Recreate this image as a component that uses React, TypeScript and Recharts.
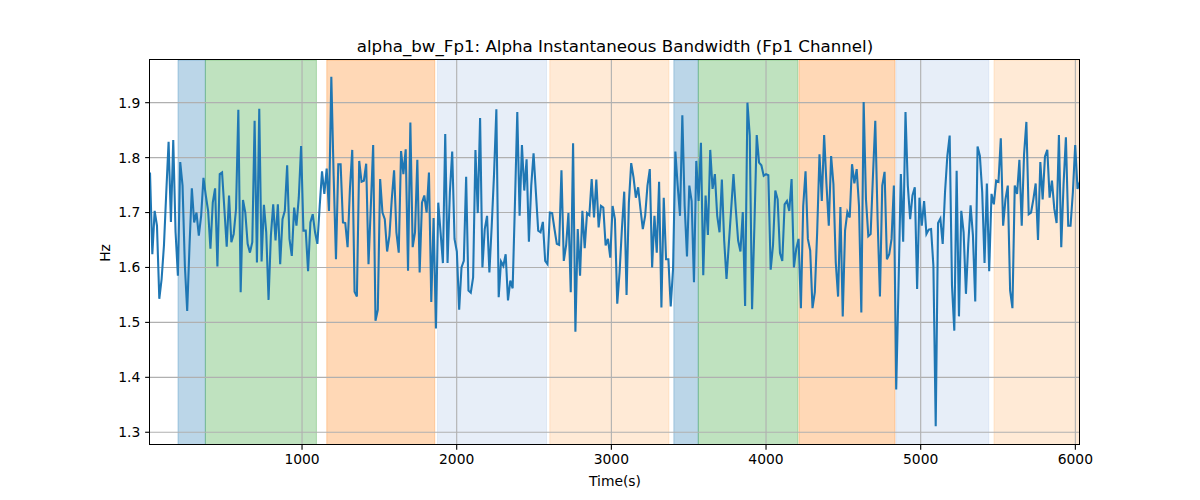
import React from 'react';
import { LineChart, Line, XAxis, YAxis, ReferenceArea, ReferenceLine } from 'recharts';

// Time axis: evenly sampled windows (seconds)
const TIME_START = 17;
const TIME_STEP = 15.03;

// Alpha instantaneous bandwidth, Fp1 channel (Hz)
const bandwidthHz: number[] = [
  1.773, 1.624, 1.703, 1.676, 1.543, 1.579, 1.640, 1.737, 1.829, 1.683,
  1.832, 1.664, 1.585, 1.792, 1.749, 1.603, 1.521, 1.640, 1.744, 1.682,
  1.700, 1.658, 1.694, 1.763, 1.731, 1.703, 1.634, 1.718, 1.744, 1.602,
  1.770, 1.773, 1.706, 1.638, 1.731, 1.646, 1.661, 1.706, 1.887, 1.555,
  1.723, 1.700, 1.643, 1.627, 1.646, 1.867, 1.609, 1.889, 1.611, 1.714,
  1.664, 1.541, 1.658, 1.715, 1.649, 1.715, 1.606, 1.688, 1.703, 1.786,
  1.652, 1.621, 1.709, 1.676, 1.727, 1.821, 1.667, 1.667, 1.593, 1.682,
  1.697, 1.664, 1.643, 1.712, 1.775, 1.734, 1.780, 1.703, 1.947, 1.767,
  1.615, 1.788, 1.788, 1.682, 1.681, 1.637, 1.743, 1.814, 1.556, 1.547,
  1.794, 1.756, 1.758, 1.789, 1.606, 1.712, 1.823, 1.503, 1.523, 1.761,
  1.700, 1.688, 1.629, 1.658, 1.724, 1.777, 1.664, 1.627, 1.812, 1.770,
  1.815, 1.594, 1.864, 1.637, 1.664, 1.796, 1.591, 1.718, 1.731, 1.700,
  1.773, 1.537, 1.690, 1.489, 1.718, 1.664, 1.608, 1.843, 1.608, 1.737,
  1.811, 1.652, 1.629, 1.523, 1.600, 1.612, 1.765, 1.558, 1.554, 1.582,
  1.814, 1.699, 1.872, 1.600, 1.670, 1.694, 1.591, 1.676, 1.770, 1.888,
  1.546, 1.611, 1.603, 1.624, 1.540, 1.576, 1.562, 1.718, 1.883, 1.694,
  1.823, 1.740, 1.797, 1.647, 1.749, 1.808, 1.737, 1.667, 1.664, 1.683,
  1.612, 1.606, 1.700, 1.699, 1.670, 1.643, 1.641, 1.777, 1.612, 1.640,
  1.699, 1.555, 1.826, 1.483, 1.670, 1.585, 1.703, 1.635, 1.699, 1.695,
  1.761, 1.691, 1.760, 1.673, 1.712, 1.709, 1.640, 1.652, 1.618, 1.712,
  1.688, 1.534, 1.591, 1.670, 1.738, 1.550, 1.718, 1.790, 1.764, 1.727,
  1.746, 1.706, 1.670, 1.694, 1.749, 1.779, 1.600, 1.694, 1.627, 1.756,
  1.527, 1.727, 1.615, 1.615, 1.529, 1.597, 1.811, 1.749, 1.694, 1.877,
  1.712, 1.620, 1.749, 1.721, 1.573, 1.794, 1.721, 1.827, 1.586, 1.731,
  1.659, 1.814, 1.743, 1.770, 1.694, 1.664, 1.760, 1.649, 1.579, 1.643,
  1.706, 1.770, 1.706, 1.649, 1.629, 1.701, 1.530, 1.900, 1.840, 1.524,
  1.676, 1.841, 1.791, 1.786, 1.767, 1.770, 1.768, 1.596, 1.640, 1.740,
  1.724, 1.626, 1.612, 1.715, 1.721, 1.703, 1.761, 1.600, 1.634, 1.652,
  1.526, 1.712, 1.775, 1.652, 1.631, 1.526, 1.555, 1.664, 1.806, 1.721,
  1.841, 1.752, 1.676, 1.803, 1.752, 1.609, 1.547, 1.710, 1.511, 1.667,
  1.701, 1.691, 1.788, 1.753, 1.779, 1.712, 1.518, 1.901, 1.724, 1.657,
  1.661, 1.767, 1.867, 1.688, 1.547, 1.749, 1.774, 1.615, 1.624, 1.652,
  1.749, 1.378, 1.567, 1.770, 1.647, 1.883, 1.749, 1.688, 1.731, 1.746,
  1.561, 1.727, 1.676, 1.721, 1.661, 1.669, 1.670, 1.603, 1.311, 1.681,
  1.689, 1.643, 1.737, 1.803, 1.840, 1.567, 1.485, 1.776, 1.511, 1.703,
  1.664, 1.552, 1.643, 1.713, 1.659, 1.538, 1.820, 1.803, 1.737, 1.608,
  1.753, 1.593, 1.734, 1.715, 1.758, 1.756, 1.835, 1.676, 1.724, 1.749,
  1.558, 1.526, 1.749, 1.734, 1.796, 1.676, 1.806, 1.865, 1.697, 1.700,
  1.724, 1.753, 1.650, 1.792, 1.724, 1.802, 1.814, 1.727, 1.758, 1.707,
  1.681, 1.841, 1.637, 1.752, 1.837, 1.676, 1.676, 1.737, 1.823, 1.743,
  1.756,
];

const timeSeconds: number[] = bandwidthHz.map((_, i) => TIME_START + i * TIME_STEP);

const xTicks = [1000, 2000, 3000, 4000, 5000, 6000];
const yTicks = [1.3, 1.4, 1.5, 1.6, 1.7, 1.8, 1.9];
const X_DOMAIN: [number, number] = [17, 6030];
const Y_DOMAIN: [number, number] = [1.2768, 1.9777];

// Shaded segments: [start (s), end (s), kind]
const bandStarts = [198, 375, 1160, 1876, 2602, 3404, 3562, 4213, 4840, 5474];
const bandEnds = [375, 1093, 1858, 2581, 3372, 3562, 4206, 4834, 5440, 6030];
const bandKinds = ['blue', 'green', 'orange', 'lightblue', 'lightorange', 'blue', 'green', 'orange', 'lightblue', 'lightorange'];

const bandStyle: Record<string, { color: string; opacity: number }> = {
  blue: { color: '#1f77b4', opacity: 0.3 },
  green: { color: '#2ca02c', opacity: 0.3 },
  orange: { color: '#ff7f0e', opacity: 0.3 },
  lightblue: { color: '#aec7e8', opacity: 0.3 },
  lightorange: { color: '#ffbb78', opacity: 0.3 },
};

const chartData = bandwidthHz.map((v, i) => ({ t: timeSeconds[i], v }));

const FONT = '"DejaVu Sans", sans-serif';
const PX = 100 / 72; // matplotlib pt -> px at 100 dpi

export default function App() {
  const tickStyle = { fontFamily: FONT, fontSize: 10 * PX, fill: '#000' };
  return (
    <div style={{ position: 'absolute', left: 0, top: 0, width: 1200, height: 500, background: '#fff' }}>
      <LineChart
        width={1200}
        height={500}
        data={chartData}
        margin={{ top: 60, right: 120, bottom: 0, left: 0 }}
      >
        <XAxis
          type="number"
          dataKey="t"
          domain={X_DOMAIN}
          ticks={xTicks}
          allowDataOverflow
          height={55}
          axisLine={false}
          tickLine={{ stroke: '#000', strokeWidth: 0.8 * PX }}
          tickSize={3.5 * PX}
          tickMargin={3.5 * PX - 1}
          tick={tickStyle}
        />
        <YAxis
          type="number"
          domain={Y_DOMAIN}
          ticks={yTicks}
          allowDataOverflow
          width={150}
          axisLine={false}
          tickLine={{ stroke: '#000', strokeWidth: 0.8 * PX }}
          tickSize={3.5 * PX}
          tickMargin={3.5 * PX}
          tick={tickStyle}
          tickFormatter={(v: number) => v.toFixed(1)}
        />
        {bandStarts.map((s, i) => {
          const st = bandStyle[bandKinds[i]];
          return (
            <ReferenceArea
              key={'band' + i}
              x1={s}
              x2={bandEnds[i]}
              ifOverflow="hidden"
              fill={st.color}
              fillOpacity={st.opacity}
              stroke={st.color}
              strokeOpacity={st.opacity}
              strokeWidth={1}
            />
          );
        })}
        {xTicks.map((x) => (
          <ReferenceLine key={'gx' + x} x={x} stroke="#b0b0b0" strokeWidth={0.8 * PX} />
        ))}
        {yTicks.map((y) => (
          <ReferenceLine key={'gy' + y} y={y} stroke="#b0b0b0" strokeWidth={0.8 * PX} />
        ))}
        <Line
          type="linear"
          dataKey="v"
          stroke="#1f77b4"
          strokeWidth={1.5 * PX}
          dot={false}
          activeDot={false}
          isAnimationActive={false}
        />
      </LineChart>
      {/* axes frame */}
      <div
        style={{
          position: 'absolute',
          left: 150 - 0.55,
          top: 60 - 0.55,
          width: 930 - 1.1,
          height: 385 - 1.1,
          border: `${0.8 * PX}px solid #000`,
          pointerEvents: 'none',
        }}
      />
      <div
        style={{
          position: 'absolute',
          left: 615,
          top: 46,
          transform: 'translate(-50%, -50%)',
          fontFamily: FONT,
          fontSize: 12 * PX,
          whiteSpace: 'nowrap',
          color: '#000',
        }}
      >
        alpha_bw_Fp1: Alpha Instantaneous Bandwidth (Fp1 Channel)
      </div>
      <div
        style={{
          position: 'absolute',
          left: 615,
          top: 481,
          transform: 'translate(-50%, -50%)',
          fontFamily: FONT,
          fontSize: 10 * PX,
          whiteSpace: 'nowrap',
          color: '#000',
        }}
      >
        Time(s)
      </div>
      <div
        style={{
          position: 'absolute',
          left: 105,
          top: 252.5,
          transform: 'translate(-50%, -50%) rotate(-90deg)',
          fontFamily: FONT,
          fontSize: 10 * PX,
          whiteSpace: 'nowrap',
          color: '#000',
        }}
      >
        Hz
      </div>
    </div>
  );
}
